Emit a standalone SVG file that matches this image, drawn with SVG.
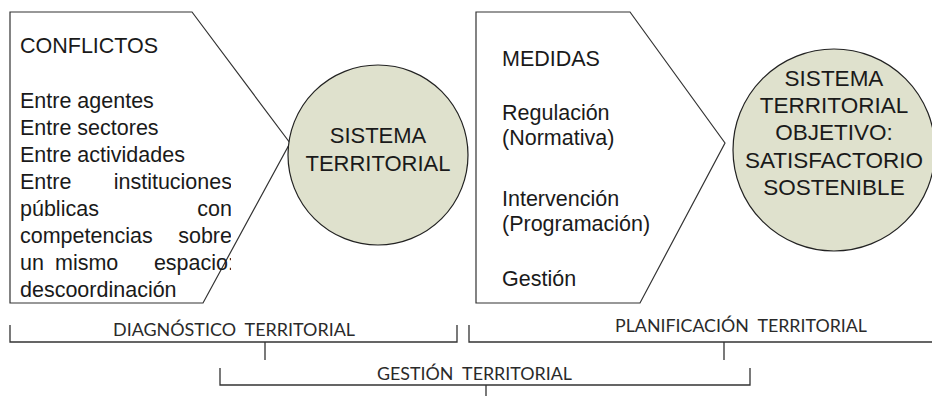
<svg xmlns="http://www.w3.org/2000/svg" width="932" height="396" viewBox="0 0 932 396">
<defs>
<style>
.box{fill:#fff;stroke:#333;stroke-width:1.2}
.circ{fill:#dfe1cd;stroke:#222;stroke-width:1.2}
.t{font-family:"Liberation Sans",Arial,sans-serif;font-size:21.5px;fill:#1a1a1a}
.c{text-anchor:middle}
.e{text-anchor:end}
.br{fill:none;stroke:#333;stroke-width:1.3}
.bl{font-family:Lato,"Open Sans","Liberation Sans",sans-serif;font-size:17px;fill:#2a2a2a;white-space:pre}
</style>
<clipPath id="clipL"><rect x="0" y="0" width="231" height="310"/></clipPath>
</defs>
<g id="conflictos">
<polygon class="box" points="10,12 192,12 290,143 203,303 10,303"/>
<g clip-path="url(#clipL)">
<text class="t" x="20" y="53">CONFLICTOS</text>
<text class="t" x="20" y="108">Entre agentes</text>
<text class="t" x="20" y="135">Entre sectores</text>
<text class="t" x="20" y="162">Entre actividades</text>
<text class="t" x="20" y="189">Entre</text>
<text class="t e" x="232" y="189">instituciones</text>
<text class="t" x="20" y="216">públicas</text>
<text class="t e" x="232" y="216">con</text>
<text class="t" x="20" y="243">competencias</text>
<text class="t e" x="232" y="243">sobre</text>
<text class="t" x="20" y="270">un</text>
<text class="t" x="55" y="270">mismo</text>
<text class="t e" x="234" y="270">espacio:</text>
<text class="t" x="20" y="297">descoordinación</text>
</g>
</g>
<g id="sistema">
<circle class="circ" cx="378" cy="155" r="90"/>
<text class="t c" x="378" y="143" style="font-size:22px">SISTEMA</text>
<text class="t c" x="378" y="171" style="font-size:22px">TERRITORIAL</text>
</g>
<g id="medidas">
<polygon class="box" points="476,12 630,12 725,143 640,303 476,303"/>
<text class="t" x="502" y="66">MEDIDAS</text>
<text class="t" x="502" y="120">Regulación</text>
<text class="t" x="502" y="145">(Normativa)</text>
<text class="t" x="502" y="206">Intervención</text>
<text class="t" x="502" y="231">(Programación)</text>
<text class="t" x="502" y="286">Gestión</text>
</g>
<g id="objetivo">
<circle class="circ" cx="834" cy="150" r="101"/>
<text class="t c" x="834" y="86" style="font-size:22.5px">SISTEMA</text>
<text class="t c" x="834" y="113" style="font-size:22.5px">TERRITORIAL</text>
<text class="t c" x="834" y="140" style="font-size:22.5px">OBJETIVO:</text>
<text class="t c" x="834" y="168" style="font-size:22.5px">SATISFACTORIO</text>
<text class="t c" x="834" y="195" style="font-size:22.5px">SOSTENIBLE</text>
</g>
<g id="connectors">
<path class="br" d="M10,325 V342 H457 V325 M265,342 V360"/>
<path class="br" d="M469,325 V342 H932 M724,342 V360"/>
<path class="br" d="M220,368 V385 H750 V368 M486,385 V396"/>
</g>
<g id="labels">
<text class="bl" x="113" y="336" textLength="242" lengthAdjust="spacingAndGlyphs">DIAGNÓSTICO  TERRITORIAL</text>
<text class="bl" x="615" y="332" textLength="252" lengthAdjust="spacingAndGlyphs">PLANIFICACIÓN  TERRITORIAL</text>
<text class="bl" x="377" y="380" textLength="195" lengthAdjust="spacingAndGlyphs">GESTIÓN  TERRITORIAL</text>
</g>
</svg>
